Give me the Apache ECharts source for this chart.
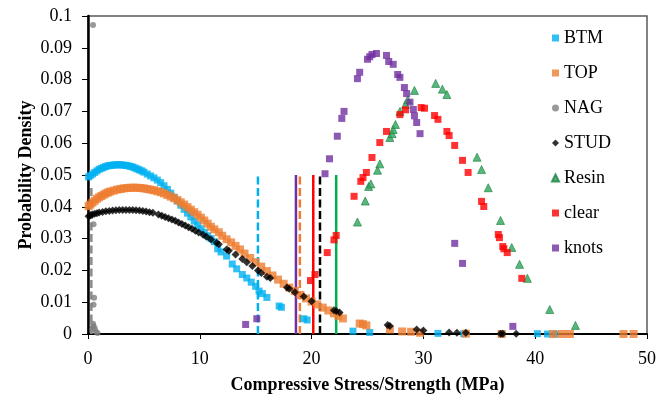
<!DOCTYPE html>
<html>
<head>
<meta charset="utf-8">
<script src="https://cdn.jsdelivr.net/npm/echarts@6/dist/echarts.min.js"></script>
<style>
  html, body { margin: 0; padding: 0; background: #fff; }
  #chart { width: 672px; height: 397px; }
</style>
</head>
<body>
<div id="chart"></div>
<script>
// Fitted probability density evaluated at each specimen's stress/strength (MPa)
const btm = [[0.05,0.0494],[0.2,0.0498],[0.4,0.0503],[0.6,0.0508],[0.8,0.0513],[1.0,0.0518],[1.2,0.0521],[1.4,0.0524],[1.6,0.0527],[1.8,0.0529],[2.0,0.0530],[2.2,0.0531],[2.4,0.0532],[2.6,0.0532],[2.8,0.0532],[3.0,0.0532],[3.2,0.0531],[3.4,0.0530],[3.6,0.0529],[3.8,0.0527],[4.0,0.0525],[4.2,0.0522],[4.4,0.0519],[4.6,0.0516],[4.8,0.0513],[5.0,0.0509],[5.3,0.0503],[5.6,0.0497],[5.9,0.0491],[6.2,0.0484],[6.5,0.0476],[6.8,0.0466],[7.1,0.0455],[7.4,0.0443],[7.7,0.0430],[8.0,0.0418],[8.3,0.0405],[8.6,0.0392],[8.9,0.0380],[9.2,0.0368],[9.5,0.0355],[9.8,0.0343],[10.1,0.0331],[10.4,0.0320],[10.7,0.0309],[11.0,0.0300],[11.3,0.0290],[11.6,0.0268],[11.9,0.0258],[12.4,0.0245],[12.9,0.0220],[13.3,0.0205],[13.8,0.0187],[14.2,0.0176],[14.6,0.0163],[15.0,0.0150],[15.3,0.0135],[15.6,0.0127],[16.0,0.0115],[17.1,0.0088],[17.3,0.0084],[19.3,0.0048],[19.6,0.0044],[23.7,0.0009],[25.2,0.0005],[31.3,0.0002],[33.6,0.0001],[37.0,0.0001],[40.2,0.0001],[41.1,0.0],[41.8,0.0]];
const top_ = [[0.05,0.0402],[0.2,0.0407],[0.4,0.0413],[0.6,0.0419],[0.8,0.0425],[1.0,0.0430],[1.2,0.0434],[1.4,0.0438],[1.6,0.0442],[1.8,0.0445],[2.0,0.0448],[2.3,0.0451],[2.6,0.0454],[2.9,0.0456],[3.2,0.0458],[3.5,0.0459],[3.8,0.0460],[4.1,0.0460],[4.4,0.0460],[4.7,0.0459],[5.0,0.0458],[5.3,0.0456],[5.6,0.0454],[5.9,0.0452],[6.2,0.0449],[6.5,0.0446],[6.8,0.0442],[7.1,0.0437],[7.4,0.0432],[7.7,0.0427],[8.0,0.0421],[8.3,0.0414],[8.6,0.0407],[8.9,0.0399],[9.2,0.0391],[9.5,0.0383],[9.8,0.0375],[10.1,0.0366],[10.4,0.0357],[10.7,0.0347],[11.0,0.0337],[11.3,0.0329],[11.7,0.0320],[12.0,0.0309],[12.4,0.0298],[12.8,0.0288],[13.2,0.0277],[13.6,0.0266],[14.0,0.0253],[14.5,0.0239],[15.0,0.0226],[15.5,0.0212],[16.0,0.0198],[16.5,0.0184],[17.0,0.0171],[17.5,0.0158],[18.0,0.0146],[18.5,0.0135],[19.0,0.0123],[19.5,0.0112],[20.0,0.0102],[20.5,0.0093],[21.0,0.0083],[21.5,0.0074],[22.0,0.0065],[22.4,0.0057],[22.8,0.0049],[24.3,0.0033],[24.6,0.0031],[24.9,0.0027],[27.0,0.0014],[28.1,0.0008],[28.9,0.0007],[29.7,0.0004],[33.8,0.0001],[37.0,0.0],[41.6,0.0],[42.4,0.0],[43.1,0.0],[47.9,0.0],[48.8,0.0]];
const nag = [[0.45,0.0972],[0.5,0.0345],[0.55,0.0114],[0.5,0.0092],[0.45,0.0032],[0.5,0.0025],[0.6,0.0018],[0.7,0.0008],[0.85,0.0003],[0.4,0.0015]];
const stud = [[0.05,0.0370],[0.2,0.0373],[0.4,0.0376],[0.6,0.0378],[0.8,0.0380],[1.0,0.0382],[1.3,0.0384],[1.6,0.0386],[1.9,0.0387],[2.2,0.0388],[2.5,0.0389],[2.8,0.0390],[3.1,0.0390],[3.4,0.0390],[3.7,0.0390],[4.0,0.0390],[4.3,0.0389],[4.6,0.0388],[4.9,0.0387],[5.2,0.0385],[5.5,0.0383],[5.8,0.0381],[6.3,0.0376],[6.6,0.0372],[6.9,0.0368],[7.2,0.0364],[7.5,0.0360],[7.8,0.0356],[8.1,0.0351],[8.4,0.0346],[8.7,0.0341],[9.0,0.0336],[9.3,0.0331],[9.6,0.0325],[9.9,0.0319],[10.3,0.0312],[10.6,0.0306],[11.0,0.0297],[11.5,0.0287],[11.7,0.0282],[12.4,0.0266],[12.6,0.0262],[13.2,0.0250],[13.8,0.0236],[14.2,0.0226],[14.7,0.0214],[15.2,0.0200],[15.5,0.0192],[16.0,0.0180],[16.3,0.0176],[17.8,0.0146],[18.0,0.0142],[18.5,0.0131],[19.3,0.0118],[20.0,0.0103],[22.0,0.0075],[22.2,0.0072],[22.5,0.0068],[26.8,0.0028],[27.0,0.0025],[29.4,0.0014],[30.0,0.0011],[32.3,0.0005],[33.0,0.0004],[33.8,0.0004],[36.9,0.0001],[37.1,0.0001],[38.3,0.0001]];
const resin = [[24.1,0.0352],[24.8,0.0418],[25.1,0.0464],[25.3,0.0472],[25.9,0.0515],[26.1,0.0535],[27.0,0.0618],[27.2,0.0630],[27.3,0.0643],[27.5,0.0659],[27.9,0.0700],[28.4,0.0722],[28.6,0.0737],[29.2,0.0766],[31.1,0.0788],[31.7,0.0770],[32.1,0.0753],[34.8,0.0556],[35.2,0.0517],[35.8,0.0460],[36.9,0.0357],[37.9,0.0272],[38.6,0.0219],[39.3,0.0175],[41.3,0.0077],[43.6,0.0027]];
const clear = [[19.9,0.0168],[20.3,0.0187],[21.4,0.0256],[22.0,0.0296],[22.2,0.0310],[23.8,0.0433],[24.4,0.0480],[24.6,0.0492],[24.9,0.0508],[25.4,0.0555],[26.1,0.0602],[26.7,0.0637],[27.9,0.0690],[28.4,0.0705],[29.8,0.0712],[30.1,0.0710],[31.0,0.0687],[31.3,0.0675],[32.1,0.0637],[32.3,0.0624],[32.8,0.0593],[33.5,0.0546],[34.0,0.0508],[35.2,0.0417],[35.4,0.0401],[36.7,0.0313],[36.8,0.0303],[37.1,0.0275],[37.2,0.0268],[37.5,0.0256],[38.8,0.0175]];
const knots = [[14.1,0.0030],[15.1,0.0048],[21.2,0.0504],[21.6,0.0551],[22.3,0.0622],[22.7,0.0678],[22.9,0.0700],[24.1,0.0803],[24.3,0.0823],[25.0,0.0864],[25.2,0.0872],[25.4,0.0879],[25.8,0.0882],[26.7,0.0876],[26.9,0.0857],[27.3,0.0848],[27.7,0.0816],[27.9,0.0807],[28.3,0.0775],[28.5,0.0756],[28.8,0.0729],[29.1,0.0706],[29.2,0.0686],[29.4,0.0665],[29.7,0.0630],[32.8,0.0285],[33.5,0.0222],[38.0,0.0024]];

// Group names and mean strength markers (MPa) with their drawn height
const groups = ['BTM', 'TOP', 'NAG', 'STUD', 'Resin', 'clear', 'knots'];
const meanStrength = [15.2, 18.95, 0.3, 20.75, 22.2, 20.15, 18.6];
const meanHeight = [0.05, 0.05, 0.046, 0.05, 0.05, 0.05, 0.05];

const colors = ['#00B0F0', '#ED7D31', '#808080', '#000000', '#2EA55A', '#FF0000', '#7030A0'];
const lineColors = ['#00B0F0', '#ED7D31', '#8C8C8C', '#000000', '#00B050', '#FF0000', '#7030A0'];
const dashed = [true, true, true, true, false, false, false];
const symbols = ['rect', 'rect', 'circle', 'diamond', 'triangle', 'rect', 'rect'];
const sizes = [7, 8, 6, 8, 8, 7, 7];
const pointSets = [btm, top_, nag, stud, resin, clear, knots];

const font = "'Liberation Serif', 'Times New Roman', serif";

const series = [];
groups.forEach((g, i) => {
  series.push({
    type: 'line',
    data: [[meanStrength[i], 0], [meanStrength[i], meanHeight[i]]],
    symbol: 'none',
    silent: true,
    z: 1,
    lineStyle: { color: lineColors[i], width: 2.5, type: dashed[i] ? [8, 3.5] : 'solid' }
  });
});
groups.forEach((g, i) => {
  series.push({
    name: g,
    type: 'scatter',
    data: pointSets[i],
    symbol: symbols[i],
    symbolSize: sizes[i],
    z: 2 + i,
    itemStyle: i === 4
      ? { color: colors[i], borderColor: '#1C7F43', borderWidth: 0.8 }
      : { color: colors[i] }
  });
});

const chart = echarts.init(document.getElementById('chart'), null, { renderer: 'canvas' });
chart.setOption({
  animation: false,
  backgroundColor: '#fff',
  textStyle: { fontFamily: font, color: '#000' },
  grid: {
    left: 88, right: 25, top: 16, bottom: 63,
    containLabel: false,
    outerBoundsMode: 'none',
    show: true, borderColor: '#595959', borderWidth: 1.5, backgroundColor: 'transparent'
  },
  legend: {
    data: groups,
    orient: 'vertical',
    left: 546,
    top: 24,
    itemWidth: 7,
    itemHeight: 7,
    itemGap: 17,
    textStyle: { fontFamily: font, fontSize: 18, color: '#000', lineHeight: 18 }
  },
  xAxis: {
    type: 'value',
    min: 0, max: 50, interval: 10,
    name: 'Compressive Stress/Strength (MPa)',
    nameLocation: 'middle',
    nameGap: 42,
    nameMoveOverlap: false,
    nameTextStyle: { fontFamily: font, fontSize: 18, fontWeight: 'bold', color: '#000' },
    axisLine: { lineStyle: { color: '#000', width: 2 } },
    axisTick: { show: true, inside: false, length: 5, lineStyle: { color: '#000', width: 1 } },
    axisLabel: { fontFamily: font, fontSize: 18, color: '#000', margin: 16 },
    splitLine: { show: false }
  },
  yAxis: {
    type: 'value',
    min: 0, max: 0.1, interval: 0.01,
    name: 'Probability Density',
    nameLocation: 'middle',
    nameRotate: 90,
    nameGap: 53,
    nameMoveOverlap: false,
    nameTextStyle: { fontFamily: font, fontSize: 18, fontWeight: 'bold', color: '#000' },
    axisLine: { show: true, lineStyle: { color: '#000', width: 2.5 } },
    axisTick: { show: true, inside: false, length: 6, lineStyle: { color: '#000', width: 1 } },
    axisLabel: {
      fontFamily: font, fontSize: 18, color: '#000', margin: 16,
      formatter: v => (v === 0 ? '0' : String(+v.toFixed(2)))
    },
    splitLine: { show: false }
  },
  series: series
});
</script>
</body>
</html>
